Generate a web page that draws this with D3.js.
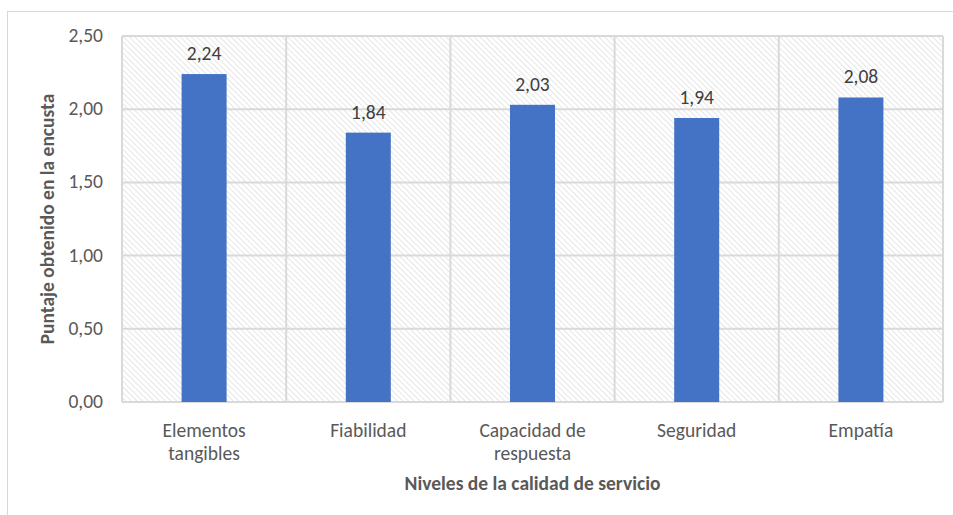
<!DOCTYPE html>
<html>
<head>
<meta charset="utf-8">
<script src="https://cdn.jsdelivr.net/npm/d3@7"></script>
<style>
body { margin: 0; background: #fff; }
</style>
</head>
<body>
<div id="containerDiv"></div>
<script>
var categories = ["Elementos tangibles", "Fiabilidad", "Capacidad de respuesta", "Seguridad", "Empatía"];
var puntajes = [2.24, 1.84, 2.03, 1.94, 2.08];
var yTicks = [0, 0.5, 1, 1.5, 2, 2.5];
// manual line breaks like in the original
var catLines = [["Elementos", "tangibles"], ["Fiabilidad"], ["Capacidad de", "respuesta"], ["Seguridad"], ["Empatía"]];

var w = 953;
var h = 515;
var margin = {top: 36, right: 10, bottom: 113, left: 122};
var plotW = 943 - margin.left;
var plotH = 402 - margin.top;
var fontFam = "Calibri, Carlito, Lato, sans-serif";
var grey = "#595959";

var svg = d3.select("#containerDiv")
  .append("svg")
  .attr("width", w)
  .attr("height", h);

// hatch pattern for the plot background
var pat = svg.append("defs").append("pattern")
  .attr("id", "hatch")
  .attr("patternUnits", "userSpaceOnUse")
  .attr("width", 4)
  .attr("height", 4)
  .attr("patternTransform", "rotate(-45)");
pat.append("line")
  .attr("x1", 0).attr("y1", 0)
  .attr("x2", 0).attr("y2", 4)
  .attr("stroke", "#dcdcdc")
  .attr("stroke-width", 1.4);

// outer chart frame (runs off the picture to the right and bottom)
svg.append("rect")
  .attr("x", 7.5).attr("y", 11.5)
  .attr("width", 1000).attr("height", 600)
  .attr("fill", "none")
  .attr("stroke", "#d9d9d9")
  .attr("stroke-width", 1);

var g = svg.append("g")
  .attr("transform", "translate(" + margin.left + "," + margin.top + ")");

var x = d3.scaleBand()
  .domain(categories)
  .range([0, plotW])
  .paddingInner(0)
  .paddingOuter(0);

var y = d3.scaleLinear()
  .domain([0, 2.5])
  .range([plotH, 0]);

g.append("rect")
  .attr("width", plotW)
  .attr("height", plotH)
  .attr("fill", "url(#hatch)");

// horizontal gridlines
g.selectAll(".hgrid")
  .data(yTicks)
  .enter()
  .append("line")
  .attr("x1", 0)
  .attr("x2", plotW)
  .attr("y1", function(d) { return y(d); })
  .attr("y2", function(d) { return y(d); })
  .attr("stroke", "#d9d9d9")
  .attr("stroke-width", 2);

// vertical gridlines at category borders
var borders = categories.map(function(c) { return x(c); }).concat([plotW]);
g.selectAll(".vgrid")
  .data(borders)
  .enter()
  .append("line")
  .attr("x1", function(d) { return d; })
  .attr("x2", function(d) { return d; })
  .attr("y1", 0)
  .attr("y2", plotH)
  .attr("stroke", "#d9d9d9")
  .attr("stroke-width", 2);

var barW = 45;
g.selectAll(".bar")
  .data(puntajes)
  .enter()
  .append("rect")
  .attr("x", function(d, i) { return x(categories[i]) + x.bandwidth() / 2 - barW / 2; })
  .attr("y", function(d) { return y(d); })
  .attr("width", barW)
  .attr("height", function(d) { return plotH - y(d); })
  .attr("fill", "#4472c4");

// value labels
g.selectAll(".val")
  .data(puntajes)
  .enter()
  .append("text")
  .text(function(d) { return d.toFixed(2).replace(".", ","); })
  .attr("text-anchor", "middle")
  .attr("x", function(d, i) { return x(categories[i]) + x.bandwidth() / 2; })
  .attr("y", function(d) { return y(d) - 14; })
  .attr("font-family", fontFam)
  .attr("font-size", "19.5px")
  .attr("fill", "#404040");

// y tick labels
g.selectAll(".ytick")
  .data(yTicks)
  .enter()
  .append("text")
  .text(function(d) { return d.toFixed(2).replace(".", ","); })
  .attr("text-anchor", "end")
  .attr("x", -19)
  .attr("y", function(d) { return y(d) + 6; })
  .attr("font-family", fontFam)
  .attr("font-size", "19.5px")
  .attr("fill", grey);

// category labels
var cat = g.selectAll(".cat")
  .data(catLines)
  .enter()
  .append("text")
  .attr("text-anchor", "middle")
  .attr("font-family", fontFam)
  .attr("font-size", "19.5px")
  .attr("fill", grey);
cat.selectAll("tspan")
  .data(function(d, i) { return d.map(function(t) { return {t: t, i: i}; }); })
  .enter()
  .append("tspan")
  .attr("x", function(d) { return x(categories[d.i]) + x.bandwidth() / 2; })
  .attr("y", function(d, j) { return plotH + 35 + j * 23; })
  .text(function(d) { return d.t; });

// axis titles
svg.append("text")
  .text("Niveles de la calidad de servicio")
  .attr("text-anchor", "middle")
  .attr("x", margin.left + plotW / 2)
  .attr("y", 490)
  .attr("font-family", fontFam)
  .attr("font-size", "19.5px")
  .attr("font-weight", "bold")
  .attr("fill", grey);

svg.append("text")
  .text("Puntaje obtenido en la encusta")
  .attr("text-anchor", "middle")
  .attr("transform", "translate(54," + (margin.top + plotH / 2) + ") rotate(-90)")
  .attr("font-family", fontFam)
  .attr("font-size", "19.5px")
  .attr("font-weight", "bold")
  .attr("fill", grey);
</script>
</body>
</html>
